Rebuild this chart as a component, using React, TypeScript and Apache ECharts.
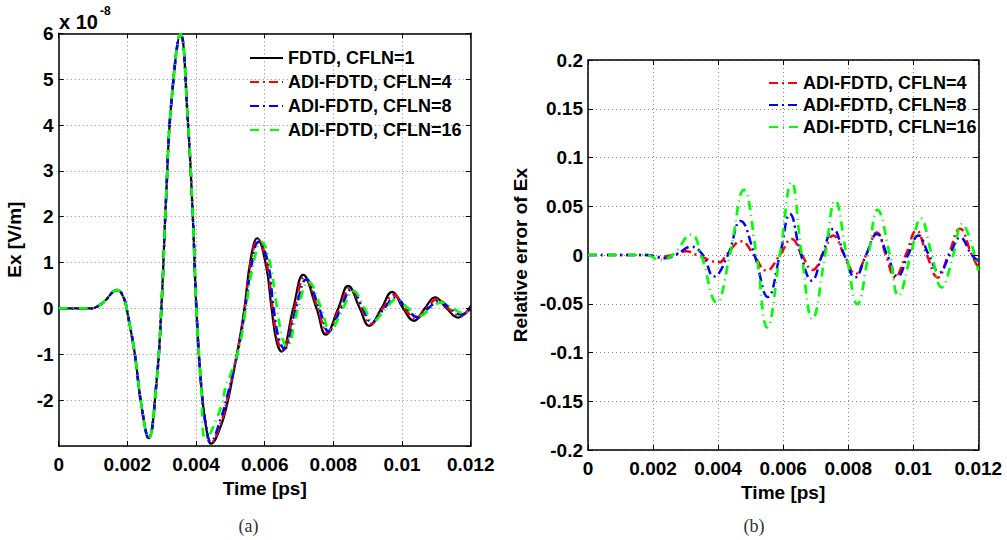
import React, { useEffect, useRef } from "react";
import * as echarts from "echarts";

// ---------- Left panel (a): Ex [x 1e-8 V/m] vs time [ps] ----------
const fdtdT = [0, 0.0005, 0.00095, 0.0011, 0.0013, 0.00171, 0.0019, 0.002, 0.00221, 0.00241, 0.00262, 0.00284, 0.00299, 0.00313, 0.00328, 0.00355, 0.00376, 0.00391, 0.00401, 0.00415, 0.0043, 0.00444, 0.00473, 0.00492, 0.00502, 0.00527, 0.00541, 0.00559, 0.00578, 0.00604, 0.0062, 0.00635, 0.00649, 0.00683, 0.00712, 0.00751, 0.00778, 0.00814, 0.00843, 0.00877, 0.00904, 0.0094, 0.00971, 0.01003, 0.01035, 0.01066, 0.01096, 0.0113, 0.01163, 0.012];
const fdtdV = [0, 0, 0, 0.03, 0.13, 0.4, 0.22, -0.09, -0.96, -2.12, -2.83, -1.68, 0, 2.45, 4.48, 5.98, 4.11, 1.94, 0, -1.68, -2.62, -2.95, -2.55, -2.04, -1.68, -0.67, 0, 1.07, 1.53, 0.93, 0, -0.73, -0.94, 0, 0.73, 0, -0.57, 0, 0.49, 0, -0.38, 0, 0.36, 0, -0.27, 0, 0.24, 0, -0.2, 0.05];

const adi4T = [0, 0.0005, 0.00095, 0.0011, 0.0013, 0.00171, 0.0019, 0.002, 0.00221, 0.00241, 0.00262, 0.00284, 0.00299, 0.00313, 0.00328, 0.00355, 0.00376, 0.00391, 0.00401, 0.00415, 0.0043, 0.00443, 0.00473, 0.00492, 0.00502, 0.00527, 0.00542, 0.0056, 0.0058, 0.00606, 0.00623, 0.00638, 0.00652, 0.00687, 0.00716, 0.00755, 0.00782, 0.00818, 0.00848, 0.00882, 0.00908, 0.00944, 0.00976, 0.01008, 0.0104, 0.0107, 0.01102, 0.01135, 0.01168, 0.012];
const adi4V = [0, 0, 0, 0.03, 0.13, 0.4, 0.22, -0.09, -0.96, -2.12, -2.83, -1.68, 0, 2.45, 4.48, 5.98, 4.11, 1.94, 0, -1.68, -2.62, -2.93, -2.48, -1.95, -1.62, -0.7, 0, 1.02, 1.5, 0.98, 0, -0.7, -0.92, 0, 0.68, 0, -0.53, 0, 0.44, 0, -0.34, 0, 0.3, 0, -0.23, 0, 0.2, 0, -0.16, 0];

const adi8T = [0, 0.0005, 0.00095, 0.0011, 0.0013, 0.00171, 0.0019, 0.002, 0.00221, 0.00241, 0.00262, 0.00284, 0.00299, 0.00313, 0.00328, 0.00355, 0.00376, 0.00391, 0.00401, 0.00415, 0.0043, 0.00442, 0.00473, 0.00492, 0.00502, 0.00527, 0.00543, 0.00562, 0.00582, 0.00608, 0.00626, 0.00642, 0.00657, 0.00691, 0.00721, 0.00759, 0.00786, 0.00822, 0.00853, 0.00886, 0.00912, 0.00948, 0.0098, 0.01013, 0.01046, 0.01076, 0.01108, 0.01141, 0.01172, 0.012];
const adi8V = [0, 0, 0, 0.03, 0.13, 0.4, 0.22, -0.09, -0.96, -2.12, -2.83, -1.68, 0, 2.45, 4.48, 5.98, 4.11, 1.94, 0, -1.68, -2.6, -2.9, -2.38, -1.88, -1.58, -0.75, 0, 0.95, 1.45, 1.05, 0, -0.68, -0.88, 0, 0.63, 0, -0.5, 0, 0.41, 0, -0.3, 0, 0.24, 0, -0.19, 0, 0.16, 0, -0.13, -0.02];

const adi16T = [0, 0.0005, 0.00095, 0.0011, 0.0013, 0.00171, 0.0019, 0.002, 0.00221, 0.00241, 0.00262, 0.00284, 0.00299, 0.00313, 0.00328, 0.00355, 0.00376, 0.00391, 0.00401, 0.00415, 0.00428, 0.00473, 0.00488, 0.005, 0.00527, 0.00545, 0.00565, 0.0059, 0.00612, 0.00636, 0.0065, 0.00664, 0.00697, 0.00727, 0.00765, 0.0079, 0.00828, 0.00858, 0.00891, 0.00916, 0.00953, 0.00984, 0.01018, 0.01052, 0.01083, 0.01115, 0.01148, 0.01178, 0.012];
const adi16V = [0, 0, 0, 0.03, 0.13, 0.4, 0.22, -0.09, -0.96, -2.12, -2.83, -1.68, 0, 2.45, 4.48, 5.98, 4.11, 1.94, 0, -1.7, -2.86, -2.15, -1.65, -1.45, -0.8, 0, 0.9, 1.45, 1.1, 0, -0.6, -0.83, 0, 0.58, 0, -0.47, 0, 0.38, 0, -0.27, 0, 0.2, 0, -0.16, 0, 0.13, 0, -0.1, -0.06];

// ---------- Right panel (b): relative error of Ex ----------
const err4T = [0, 0.0018, 0.0022, 0.0026, 0.00302, 0.00335, 0.00405, 0.00425, 0.00471, 0.0051, 0.00548, 0.0059, 0.00626, 0.00658, 0.0069, 0.00722, 0.00754, 0.00788, 0.00822, 0.00855, 0.00888, 0.00916, 0.00944, 0.00977, 0.0101, 0.01042, 0.01075, 0.01108, 0.01144, 0.0118, 0.012];
const err4V = [0, 0, -0.002, 0, 0.0038, 0, -0.0075, 0, 0.014, 0, -0.016, 0, 0.0164, 0, -0.0154, 0, 0.02, 0, -0.0195, 0, 0.023, 0, -0.023, 0, 0.025, 0, -0.023, 0, 0.027, 0, -0.013];

const err8T = [0, 0.0018, 0.00236, 0.0027, 0.00318, 0.00353, 0.00387, 0.0043, 0.00469, 0.00512, 0.00553, 0.0059, 0.00621, 0.00655, 0.00688, 0.0072, 0.00754, 0.00788, 0.00821, 0.00855, 0.00888, 0.0092, 0.00952, 0.00984, 0.01016, 0.01048, 0.0108, 0.01112, 0.01144, 0.0118, 0.012];
const err8V = [0, 0, -0.0034, 0, 0.0085, 0, -0.022, 0, 0.035, 0, -0.043, 0, 0.042, 0, -0.0263, 0, 0.0267, 0, -0.023, 0, 0.0215, 0, -0.022, 0, 0.02, 0, -0.018, 0, 0.018, 0, -0.006];

const err16T = [0, 0.0018, 0.0022, 0.0026, 0.00318, 0.00348, 0.00395, 0.00436, 0.00479, 0.00518, 0.00551, 0.0059, 0.00626, 0.00657, 0.0069, 0.00729, 0.0076, 0.00795, 0.00828, 0.00862, 0.0089, 0.00928, 0.00954, 0.00992, 0.01023, 0.01057, 0.01087, 0.01123, 0.01149, 0.012];
const err16V = [0, 0, -0.005, 0, 0.021, 0, -0.0485, 0, 0.0667, 0, -0.0742, 0, 0.0745, 0, -0.0656, 0, 0.0557, 0, -0.0503, 0, 0.0462, 0, -0.0417, 0, 0.0376, 0, -0.0332, 0, 0.0318, -0.016];

const leftNames = ["FDTD, CFLN=1", "ADI-FDTD, CFLN=4", "ADI-FDTD, CFLN=8", "ADI-FDTD, CFLN=16"];
const rightNames = ["ADI-FDTD, CFLN=4", "ADI-FDTD, CFLN=8", "ADI-FDTD, CFLN=16"];
const timeTicks = { min: 0, max: 0.012, interval: 0.002 };
const exTicks = { min: -3, max: 6, interval: 1 };
const errTicks = { min: -0.2, max: 0.2, interval: 0.05 };

const FONT = "'Liberation Sans', Arial, Helvetica, sans-serif";
const zip = (t: number[], v: number[]) => t.map((x, i) => [x, v[i]]);
const fmt = (v: number) => String(Number(v.toFixed(4)));

function mainX(gridIndex: number, ticks: any, nameGap: number) {
  return {
    type: "value", gridIndex, position: "bottom", ...ticks,
    name: "Time [ps]", nameLocation: "middle", nameGap,
    nameTextStyle: { fontFamily: FONT, fontWeight: "bold", fontSize: 19, color: "#000" },
    axisLine: { show: true, onZero: false, lineStyle: { color: "#000", width: 1.5 } },
    axisTick: { show: true, inside: true, length: 5, lineStyle: { color: "#000" } },
    axisLabel: { fontFamily: FONT, fontWeight: "bold", fontSize: 19, color: "#000", margin: 9, formatter: fmt, showMinLabel: true, showMaxLabel: true },
    splitLine: { show: true, lineStyle: { color: "#888", width: 1, type: [1, 3] } },
  };
}
function topX(gridIndex: number, ticks: any) {
  return {
    type: "value", gridIndex, position: "top", ...ticks,
    axisLine: { show: true, onZero: false, lineStyle: { color: "#000", width: 1.5 } },
    axisTick: { show: true, inside: true, length: 5, lineStyle: { color: "#000" } },
    axisLabel: { show: false }, splitLine: { show: false },
  };
}
function mainY(gridIndex: number, ticks: any, name: string, nameGap: number, showMin: boolean) {
  return {
    type: "value", gridIndex, position: "left", ...ticks,
    name, nameLocation: "middle", nameGap,
    nameTextStyle: { fontFamily: FONT, fontWeight: "bold", fontSize: 19, color: "#000" },
    axisLine: { show: true, onZero: false, lineStyle: { color: "#000", width: 1.5 } },
    axisTick: { show: true, inside: true, length: 5, lineStyle: { color: "#000" } },
    axisLabel: { fontFamily: FONT, fontWeight: "bold", fontSize: 19, color: "#000", margin: 5, formatter: fmt, showMinLabel: showMin, showMaxLabel: true },
    splitLine: { show: true, lineStyle: { color: "#888", width: 1, type: [1, 3] } },
  };
}
function rightY(gridIndex: number, ticks: any) {
  return {
    type: "value", gridIndex, position: "right", ...ticks,
    axisLine: { show: true, onZero: false, lineStyle: { color: "#000", width: 1.5 } },
    axisTick: { show: true, inside: true, length: 5, lineStyle: { color: "#000" } },
    axisLabel: { show: false }, splitLine: { show: false },
  };
}
function line(name: string, data: number[][], color: string, type: any, xi: number, yi: number, width = 2.5) {
  return {
    type: "line", name, data, xAxisIndex: xi, yAxisIndex: yi,
    showSymbol: false, symbol: "none", smooth: 0.45,
    lineStyle: { color, width, type }, itemStyle: { color }, z: 3,
  };
}

export default function App() {
  const ref = useRef<HTMLDivElement>(null);
  useEffect(() => {
    document.body.style.margin = "0";
    const chart = echarts.init(ref.current!, null, { renderer: "svg" });
    const legendText = { fontFamily: FONT, fontWeight: "bold", fontSize: 18, color: "#000", lineHeight: 18 };
    chart.setOption({
      animation: false,
      backgroundColor: "#fff",
      grid: [
        { left: 58.7, top: 33.3, width: 412, height: 412.7 },
        { left: 588, top: 60, width: 390.3, height: 390 },
      ],
      xAxis: [mainX(0, timeTicks, 30), topX(0, timeTicks), mainX(1, timeTicks, 27), topX(1, timeTicks)],
      yAxis: [
        mainY(0, exTicks, "Ex [V/m]", 35, false), rightY(0, exTicks),
        mainY(1, errTicks, "Relative error of Ex", 58, true), rightY(1, errTicks),
      ],
      legend: [
        { left: 244, top: 44, orient: "vertical", itemWidth: 33, itemHeight: 12, itemGap: 6, itemStyle: { opacity: 0 }, textStyle: legendText, data: leftNames, selectedMode: false },
        { left: 763, top: 69, orient: "vertical", itemWidth: 29, itemHeight: 12, itemGap: 4, itemStyle: { opacity: 0 }, textStyle: legendText, data: rightNames, selectedMode: false },
      ],
      graphic: [
        { type: "text", left: 59, top: 12, style: { text: "x 10", font: `bold 20px ${FONT}`, fill: "#000" } },
        { type: "text", left: 100, top: 5, style: { text: "-8", font: `bold 12px ${FONT}`, fill: "#000" } },
        { type: "text", x: 248.5, y: 526, style: { text: "(a)", font: "18px 'Liberation Serif', 'Times New Roman', serif", fill: "#333", align: "center", verticalAlign: "middle" } },
        { type: "text", x: 754, y: 526, style: { text: "(b)", font: "18px 'Liberation Serif', 'Times New Roman', serif", fill: "#333", align: "center", verticalAlign: "middle" } },
      ],
      series: [
        line(leftNames[0], zip(fdtdT, fdtdV), "#000000", "solid", 0, 0, 2.2),
        line(leftNames[1], zip(adi4T, adi4V), "#ff0000", [9, 4, 2, 4], 0, 0),
        line(leftNames[2], zip(adi8T, adi8V), "#0000ff", [9, 4, 2, 4], 0, 0),
        line(leftNames[3], zip(adi16T, adi16V), "#00ff00", [9, 5, 1, 5], 0, 0, 2.7),
        line(rightNames[0], zip(err4T, err4V), "#ff0000", [9, 4, 2, 4], 2, 2),
        line(rightNames[1], zip(err8T, err8V), "#0000ff", [9, 4, 2, 4], 2, 2),
        line(rightNames[2], zip(err16T, err16V), "#00ff00", [9, 5, 1, 5], 2, 2, 2.7),
      ],
    });
    return () => chart.dispose();
  }, []);
  return <div ref={ref} style={{ width: 1007, height: 540 }} />;
}
